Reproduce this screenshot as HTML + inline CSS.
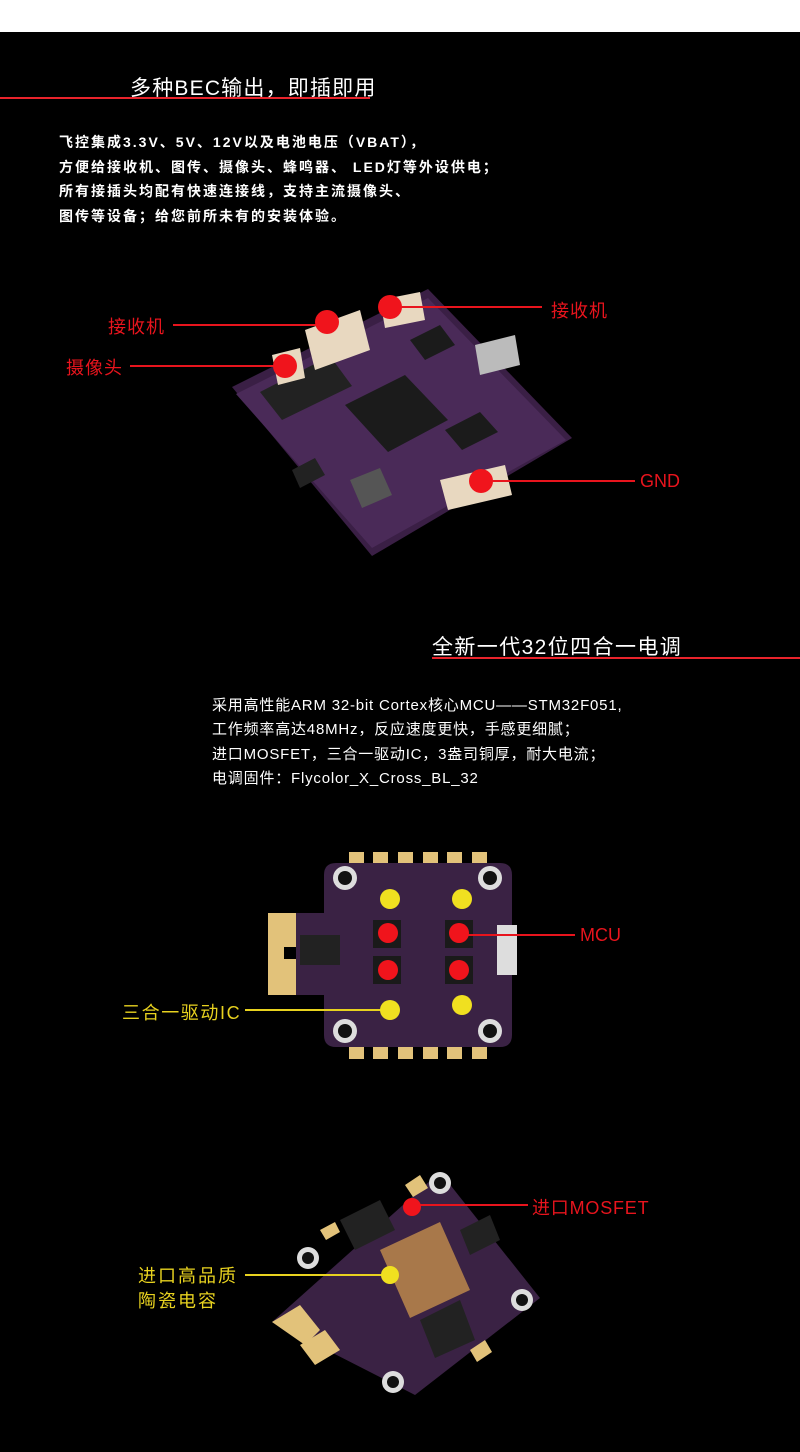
<!DOCTYPE html>
<html><head><meta charset="utf-8"><style>
body{margin:0;background:#000;width:800px;height:1452px;overflow:hidden;position:relative;font-family:"Liberation Sans","Noto Sans CJK SC",sans-serif;}
.t{position:absolute;color:#fff;white-space:nowrap}
svg{position:absolute;left:0;top:0}
</style></head><body>
<div style="position:absolute;left:0;top:0;width:800px;height:32px;background:#fff"></div>
<svg width="800" height="1452" viewBox="0 0 800 1452">
<defs>
<g id="pad"><rect width="15" height="12" fill="#e2c27a"/></g>
</defs>
<rect x="0" y="97" width="370" height="2" fill="#e8232b"/>
<rect x="432" y="657" width="368" height="2" fill="#e8232b"/>
<!-- board 1 -->
<polygon points="232,387 428,289 572,438 372,556" fill="#3a1f45"/>
<polygon points="236,394 428,298 566,440 372,548" fill="#4a2a58"/>
<polygon points="260,392 330,356 352,386 282,420" fill="#222"/>
<polygon points="345,405 405,375 448,420 388,452" fill="#1b1b1b"/>
<polygon points="410,340 440,325 455,345 425,360" fill="#1b1b1b"/>
<polygon points="445,430 480,412 498,432 462,450" fill="#1b1b1b"/>
<polygon points="350,480 380,468 392,495 362,508" fill="#555"/>
<polygon points="475,345 515,335 520,365 480,375" fill="#bbb"/>
<polygon points="305,330 360,310 370,350 315,370" fill="#e8d8c0"/>
<polygon points="380,300 420,292 425,320 385,328" fill="#e8d8c0"/>
<polygon points="272,355 300,348 305,378 278,385" fill="#e8d8c0"/>
<polygon points="440,480 505,465 512,495 448,510" fill="#e8d8c0"/>
<polygon points="292,470 315,458 325,475 300,488" fill="#222"/>
<g stroke="#e8141d" stroke-width="2">
<line x1="173" y1="325" x2="327" y2="325"/>
<line x1="390" y1="307" x2="542" y2="307"/>
<line x1="130" y1="366" x2="285" y2="366"/>
<line x1="481" y1="481" x2="635" y2="481"/>
</g>
<g fill="#f0141c">
<circle cx="327" cy="322" r="12"/><circle cx="390" cy="307" r="12"/><circle cx="285" cy="366" r="12"/><circle cx="481" cy="481" r="12"/>
</g>
<!-- board 2 -->
<g>
<use href="#pad" x="349" y="852"/><use href="#pad" x="373" y="852"/><use href="#pad" x="398" y="852"/><use href="#pad" x="423" y="852"/><use href="#pad" x="447" y="852"/><use href="#pad" x="472" y="852"/>
<use href="#pad" x="349" y="1047"/><use href="#pad" x="373" y="1047"/><use href="#pad" x="398" y="1047"/><use href="#pad" x="423" y="1047"/><use href="#pad" x="447" y="1047"/><use href="#pad" x="472" y="1047"/>
<rect x="268" y="913" width="32" height="82" fill="#e2c27a"/>
<rect x="284" y="947" width="16" height="12" fill="#000"/>
<path d="M336,863 H500 Q512,863 512,875 V1035 Q512,1047 500,1047 H336 Q324,1047 324,1035 V995 H296 V913 H324 V875 Q324,863 336,863Z" fill="#3a2244"/>
<g fill="#ddd"><circle cx="345" cy="878" r="12"/><circle cx="490" cy="878" r="12"/><circle cx="345" cy="1031" r="12"/><circle cx="490" cy="1031" r="12"/></g>
<g fill="#111"><circle cx="345" cy="878" r="7"/><circle cx="490" cy="878" r="7"/><circle cx="345" cy="1031" r="7"/><circle cx="490" cy="1031" r="7"/></g>
<rect x="300" y="935" width="40" height="30" fill="#222"/>
<rect x="497" y="925" width="20" height="50" fill="#ddd"/>
<g fill="#1a1a1a"><rect x="373" y="920" width="28" height="28"/><rect x="445" y="920" width="28" height="28"/><rect x="373" y="956" width="28" height="28"/><rect x="445" y="956" width="28" height="28"/></g>
</g>
<g stroke-width="2"><line x1="458" y1="935" x2="575" y2="935" stroke="#e8141d"/><line x1="245" y1="1010" x2="390" y2="1010" stroke="#e8d21f"/></g>
<g fill="#f0141c"><circle cx="388" cy="933" r="10"/><circle cx="459" cy="933" r="10"/><circle cx="388" cy="970" r="10"/><circle cx="459" cy="970" r="10"/></g>
<g fill="#f0e020"><circle cx="390" cy="899" r="10"/><circle cx="462" cy="899" r="10"/><circle cx="390" cy="1010" r="10"/><circle cx="462" cy="1005" r="10"/></g>
<!-- board 3 -->
<polygon points="272,1322 440,1172 540,1298 415,1395" fill="#3a2244"/>
<g fill="#e2c27a">
<polygon points="272,1322 300,1305 320,1330 305,1345"/>
<polygon points="300,1345 325,1330 340,1350 315,1365"/>
<polygon points="405,1185 420,1175 428,1188 413,1197"/>
<polygon points="320,1230 335,1222 340,1232 326,1240"/>
<polygon points="470,1350 485,1340 492,1352 477,1362"/>
</g>
<g fill="#ddd"><circle cx="440" cy="1183" r="11"/><circle cx="308" cy="1258" r="11"/><circle cx="522" cy="1300" r="11"/><circle cx="393" cy="1382" r="11"/></g>
<g fill="#111"><circle cx="440" cy="1183" r="6"/><circle cx="308" cy="1258" r="6"/><circle cx="522" cy="1300" r="6"/><circle cx="393" cy="1382" r="6"/></g>
<polygon points="380,1250 440,1222 470,1290 410,1318" fill="#a8784a"/>
<polygon points="340,1220 380,1200 395,1230 355,1250" fill="#222"/>
<polygon points="420,1320 460,1300 475,1340 435,1358" fill="#222"/>
<polygon points="460,1230 490,1215 500,1240 470,1255" fill="#222"/>
<g stroke-width="2"><line x1="412" y1="1205" x2="528" y2="1205" stroke="#e8141d"/><line x1="245" y1="1275" x2="390" y2="1275" stroke="#e8d21f"/></g>
<circle cx="412" cy="1207" r="9" fill="#f0141c"/>
<circle cx="390" cy="1275" r="9" fill="#f0e020"/>
</svg>
<div class="t" style="left:130px;top:72px;font-size:21px;letter-spacing:1.2px">多种BEC输出，即插即用</div>
<div class="t" style="left:59px;top:130px;font-size:14px;font-weight:bold;line-height:24.5px;letter-spacing:2px">飞控集成3.3V、5V、12V以及电池电压（VBAT），<br>方便给接收机、图传、摄像头、蜂鸣器、 LED灯等外设供电；<br>所有接插头均配有快速连接线，支持主流摄像头、<br>图传等设备；给您前所未有的安装体验。</div>
<div class="t" style="left:108px;top:313px;font-size:18px;color:#e8141d;letter-spacing:1px">接收机</div>
<div class="t" style="left:551px;top:297px;font-size:18px;color:#e8141d;letter-spacing:1px">接收机</div>
<div class="t" style="left:66px;top:354px;font-size:18px;color:#e8141d;letter-spacing:1px">摄像头</div>
<div class="t" style="left:640px;top:471px;font-size:18px;color:#e8141d">GND</div>
<div class="t" style="left:432px;top:631px;font-size:21px;letter-spacing:1.4px">全新一代32位四合一电调</div>
<div class="t" style="left:212px;top:694px;font-size:15px;line-height:24.3px;letter-spacing:0.8px">采用高性能ARM 32-bit Cortex核心MCU——STM32F051,<br>工作频率高达48MHz，反应速度更快，手感更细腻；<br>进口MOSFET，三合一驱动IC，3盎司铜厚，耐大电流；<br>电调固件：Flycolor_X_Cross_BL_32</div>
<div class="t" style="left:580px;top:925px;font-size:18px;color:#e8141d">MCU</div>
<div class="t" style="left:122px;top:999px;font-size:18px;color:#e8d21f;letter-spacing:1.6px">三合一驱动IC</div>
<div class="t" style="left:532px;top:1194px;font-size:18px;color:#e8141d;letter-spacing:0.8px">进口MOSFET</div>
<div class="t" style="left:138px;top:1264px;font-size:18px;color:#e8d21f;line-height:25px;letter-spacing:2px">进口高品质<br>陶瓷电容</div>
</body></html>
